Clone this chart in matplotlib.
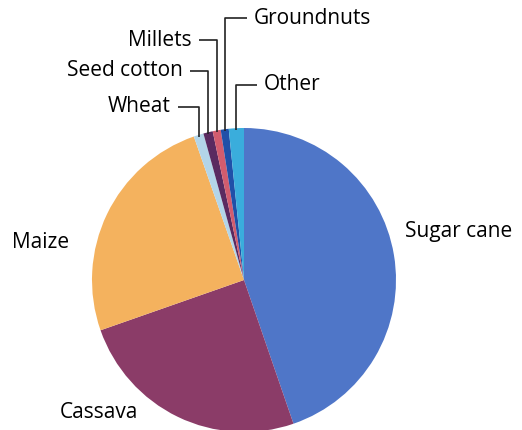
import matplotlib.pyplot as plt
import numpy as np

labels = ['Sugar cane', 'Cassava', 'Maize', 'Wheat', 'Seed cotton', 'Millets', 'Groundnuts', 'Other']
shares = [44.7, 24.9, 25.0, 1.05, 1.0, 0.85, 0.85, 1.6]
colors = ['#4f76c8', '#8b3c68', '#f4b25e', '#b3d5e8', '#5a2a60', '#d25c6e', '#2050a8', '#3aaddc']

plt.rcParams['font.family'] = ['Open Sans', 'DejaVu Sans']

W, H = 522, 430
fig = plt.figure(figsize=(W / 100, H / 100), dpi=100)
ax = fig.add_axes([0, 0, 1, 1])

cx, cy, r = 244, H - 280, 152
wedges, _ = ax.pie(shares, colors=colors, startangle=90, counterclock=False,
                   center=(cx, cy), radius=r, frame=True,
                   wedgeprops=dict(linewidth=0))
ax.set_xlim(0, W)
ax.set_ylim(0, H)
ax.set_aspect('equal')
ax.axis('off')

fs = 15
# big slices: plain labels
ax.text(405, H - 232, labels[0], fontsize=fs, va='center', ha='left')
ax.text(60, H - 413, labels[1], fontsize=fs, va='center', ha='left')
ax.text(12, H - 243, labels[2], fontsize=fs, va='center', ha='left')

# small slices: leader lines (label y in image px, side, end of horizontal run)
small = {
    'Wheat': (107, 'left', 178),
    'Seed cotton': (71, 'left', 190),
    'Millets': (40, 'left', 199),
    'Groundnuts': (18, 'right', 247),
    'Other': (85, 'right', 257),
}
for i, w in enumerate(wedges[3:], start=3):
    mid = np.deg2rad((w.theta1 + w.theta2) / 2)
    x = cx + r * np.cos(mid)
    y_edge = cy + np.sqrt(max(r ** 2 - (x - cx) ** 2, 0)) - 2
    ly, side, xend = small[labels[i]]
    ly = H - ly
    ax.plot([x, x, xend], [y_edge, ly, ly], color='#222222', lw=1.2,
            solid_capstyle='butt')
    if side == 'left':
        ax.text(xend - 7, ly, labels[i], fontsize=fs, va='center', ha='right')
    else:
        ax.text(xend + 7, ly, labels[i], fontsize=fs, va='center', ha='left')

fig.savefig('out.png', dpi=100)
